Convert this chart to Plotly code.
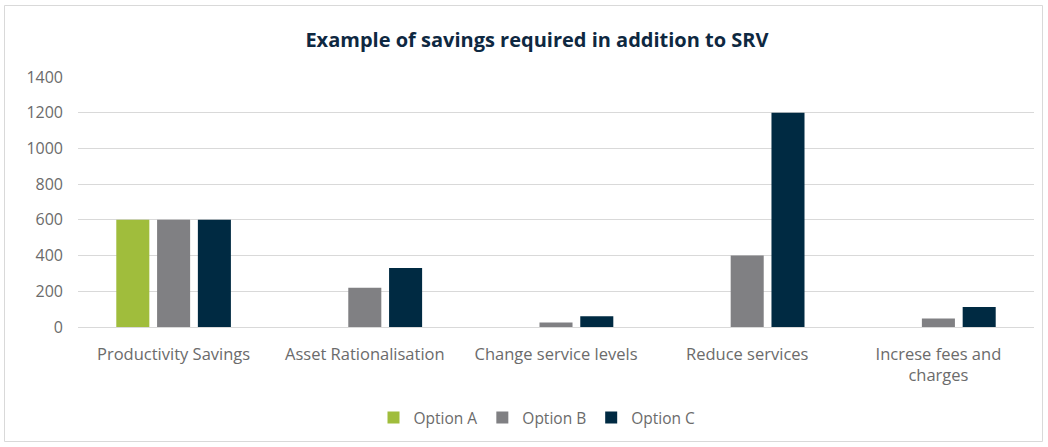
import plotly.graph_objects as go

categories = ["Productivity Savings", "Asset Rationalisation", "Change service levels",
              "Reduce services", "Increse fees and<br>charges"]
option_a = [600, 0, 0, 0, 0]
option_b = [600, 220, 25, 400, 48]
option_c = [600, 330, 60, 1200, 112]
series_names = ["Option A", "Option B", "Option C"]
colors = ["#A0BD3C", "#808083", "#002A42"]
y_ticks = [0, 200, 400, 600, 800, 1000, 1200, 1400]

W, H = 1048, 447
plot_left, plot_right, plot_top, plot_bottom = 78, 1034, 77, 327
L, T = plot_left, plot_top
R, B = W - plot_right, H - plot_bottom
pw, ph = W - L - R, H - T - B

def px_x(p):
    return (p - plot_left) / pw

def px_y(p):
    return (plot_bottom - p) / ph

fig = go.Figure()
for name, vals, col in zip(series_names, [option_a, option_b, option_c], colors):
    fig.add_trace(go.Bar(name=name, x=categories, y=vals, marker_color=col,
                         marker_line_width=0))

fig.add_shape(type="rect", xref="paper", yref="paper",
              x0=px_x(4.5), x1=px_x(1042.5), y0=px_y(5.5), y1=px_y(441.5),
              line=dict(color="#D9D9D9", width=1), layer="below")

fig.update_layout(
    width=W, height=H,
    margin=dict(l=L, r=R, t=T, b=B),
    paper_bgcolor="white", plot_bgcolor="white",
    barmode="group", bargap=0.36, bargroupgap=0.19,
    font=dict(family="Open Sans", color="#595959", size=16),
    title=dict(text="<b>Example of savings required in addition to SRV</b>",
               x=px_x(537), xanchor="center", y=1 - 40 / H, yanchor="middle",
               xref="paper",
               font=dict(family="Open Sans", size=20, color="#0E2841")),
    xaxis=dict(showgrid=False, showline=False, ticks="", ticklabelstandoff=15,
               tickfont=dict(size=16.5, color="#6b6b6b")),
    yaxis=dict(range=[0, 1400], tickvals=y_ticks, showgrid=True,
               gridcolor="#D9D9D9", gridwidth=1, zeroline=True,
               zerolinecolor="#D9D9D9", zerolinewidth=1, showline=False,
               ticks="", ticklabelstandoff=14,
               tickfont=dict(size=16, color="#6b6b6b")),
    legend=dict(orientation="h", x=px_x(537), xanchor="center", y=px_y(418),
                yanchor="middle", font=dict(size=15.5, color="#6b6b6b"),
                itemwidth=30, traceorder="normal"),
    showlegend=True,
)

fig.write_html("out.html", config={"displayModeBar": False},
               post_script="document.body.style.margin='0px';")
